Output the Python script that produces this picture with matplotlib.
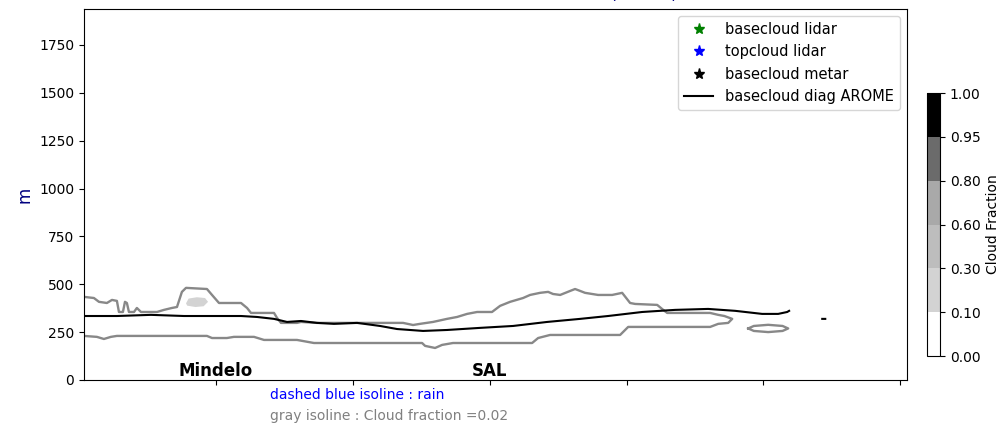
import numpy as np
import matplotlib.pyplot as plt
from matplotlib.colors import ListedColormap, BoundaryNorm
import matplotlib.cm as cm

# cloud fraction levels / colours of the colorbar
cf_levels = [0.0, 0.10, 0.30, 0.60, 0.80, 0.95, 1.00]
cf_colors = ['white', '#d3d3d3', '#bdbdbd', '#a9a9a9', '#6b6b6b', 'black']

# gray isoline (cloud fraction = 0.02): top edge, right closure, bottom edge
iso_x = [3.5, 10.8, 14.5, 20.3, 24.0, 27.6, 29.1, 32.0, 33.5, 34.9, 36.4, 40.1,
         42.2, 45.2, 56.9, 62.0, 67.8, 71.5, 75.1, 78.1, 93.4, 97.1, 102.2,
         118.3, 122.7, 125.6, 142.4, 144.6, 147.5, 159.2, 162.1, 173.8, 186.2,
         236.7, 244.0, 249.1, 258.6, 268.8, 276.2, 283.5, 290.8, 301.7, 307.6,
         314.9, 324.4, 329.5, 336.8, 342.7, 346.3, 351.5, 358.8, 362.4, 366.1,
         369.7, 379.2, 389.5, 396.8, 402.6, 406.3, 422.4, 426.8, 429.7, 461.1,
         467.0, 471.5, 477.2, 474.3, 467.0, 461.1, 401.2, 395.3, 344.1, 335.4,
         331.0, 273.2, 265.2, 260.1, 252.8, 250.6, 171.6, 159.2, 135.1, 127.8,
         113.1, 108.0, 97.1, 93.4, 27.6, 23.2, 18.1, 13.0, 3.5]
iso_z = [434, 428, 408, 402, 418, 413, 355, 355, 408, 402, 355, 355,
         376, 355, 355, 366, 376, 381, 460, 481, 475, 444, 402,
         402, 376, 350, 350, 324, 298, 298, 303, 298, 298,
         298, 287, 293, 303, 319, 329, 345, 355, 355, 387,
         408, 428, 444, 455, 460, 449, 444, 465, 475, 465,
         455, 444, 444, 455, 402, 397, 392, 366, 350, 350,
         340, 334, 319, 298, 293, 277, 277, 235, 235, 219,
         193, 193, 183, 167, 178, 193, 193, 209, 209, 225,
         225, 219, 219, 230, 230, 225, 214, 225, 230]

# small isolated isoline on the right
iso2_x = [488.9, 493.0, 503.5, 514.0, 518.1, 514.0, 503.5, 493.0, 488.9]
iso2_z = [269, 282, 288, 282, 269, 256, 250, 256, 269]

# small patch of cloud fraction 0.1-0.3 near Mindelo
patch_x = [78.1, 80.0, 86.0, 92.0, 94.2, 91.0, 85.0, 79.0]
patch_z = [400, 425, 432, 428, 408, 385, 381, 388]

# basecloud diag AROME
arome_x = [3.5, 27.6, 52.5, 76.6, 100.7, 118.3, 130.0, 142.4, 151.9, 162.1,
           173.8, 186.2, 203.1, 219.9, 232.3, 251.3, 268.8, 293.0, 317.1,
           342.0, 366.1, 386.5, 411.4, 435.5, 459.6, 479.4, 499.1, 510.8,
           517.4, 518.8, np.nan, 543.0, 545.2]
arome_z = [334, 334, 340, 334, 334, 334, 329, 319, 303, 308,
           298, 293, 298, 282, 266, 256, 261, 272, 282,
           303, 319, 334, 355, 366, 371, 361, 345, 345,
           355, 361, np.nan, 319, 319]

stations = ['Mindelo', 'SAL']
station_x = [100, 300]

fig = plt.figure(figsize=(9.99, 4.25), dpi=100)
ax = fig.add_axes([0.084, 0.106, 0.824, 0.873])

cmap = ListedColormap(cf_colors)
norm = BoundaryNorm(cf_levels, cmap.N)

ax.fill(patch_x, patch_z, color=cmap(norm(0.2)), lw=0)
ax.plot(iso_x, iso_z, color='#888888', lw=1.7)
ax.plot(iso2_x, iso2_z, color='#888888', lw=1.7)
ax.plot(arome_x, arome_z, color='black', lw=1.5, label='basecloud diag AROME')

# observations (none available on this section)
ax.plot([], [], '*', color='green', ms=8, ls='none', label='basecloud lidar')
ax.plot([], [], '*', color='blue', ms=8, ls='none', label='topcloud lidar')
ax.plot([], [], '*', color='black', ms=8, ls='none', label='basecloud metar')

h, l = ax.get_legend_handles_labels()
order = [1, 2, 3, 0]
ax.legend([h[i] for i in order], [l[i] for i in order], loc='upper right', fontsize=10.5)

for name, xs in zip(stations, station_x):
    ax.text(xs, 0, name, ha='center', va='bottom', fontsize=12, fontweight='bold')

ax.set_xlim(3.5, 605)
ax.set_ylim(0, 1938)
ax.set_xticks([100, 200, 300, 400, 500, 600])
ax.set_xticklabels([])
ax.set_yticks(np.arange(0, 1751, 250))
ax.set_ylabel('m', color='navy', fontsize=12)

# title sits mostly above the figure, only the bottom of it shows
fig.text(678 / 999, 1.003, 'Cloud Fraction cross section AROME (12UTC)', ha='right',
         va='baseline', color='navy', fontsize=12)

fig.text(270 / 999, 1 - 395 / 425, 'dashed blue isoline : rain', color='blue',
         fontsize=10, va='center')
fig.text(270 / 999, 1 - 416 / 425, 'gray isoline : Cloud fraction =0.02', color='gray',
         fontsize=10, va='center')

cax = fig.add_axes([0.928, 0.162, 0.013, 0.619])
sm = cm.ScalarMappable(norm=norm, cmap=cmap)
cb = fig.colorbar(sm, cax=cax, ticks=cf_levels, spacing='uniform')
cb.ax.set_yticklabels(['%.2f' % v for v in cf_levels])
cb.set_label('Cloud Fraction')

fig.savefig('out.png', dpi=100)
